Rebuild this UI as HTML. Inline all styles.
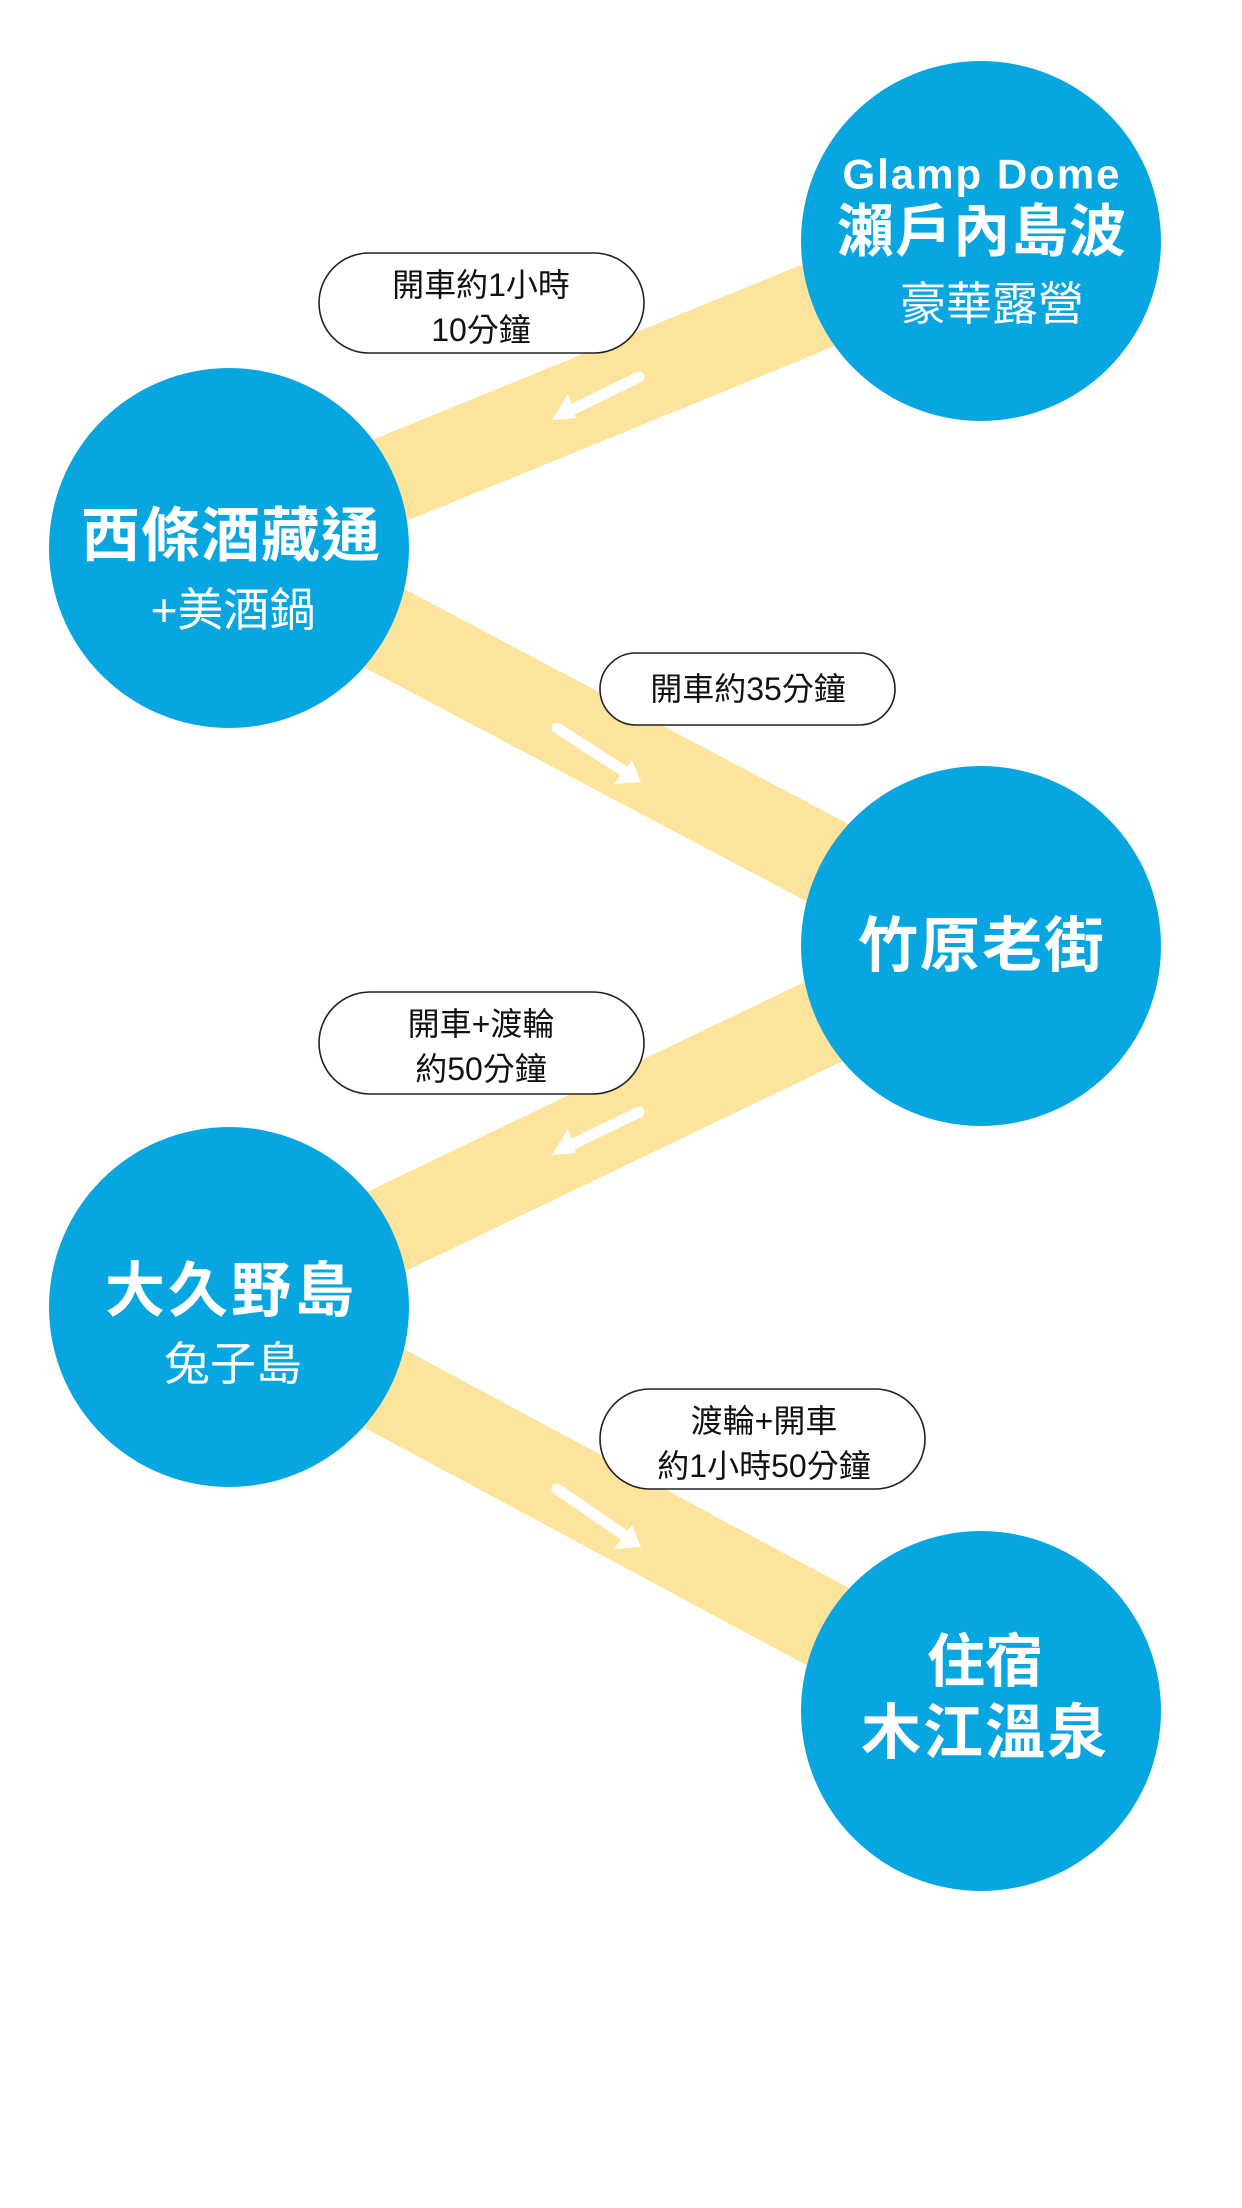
<!DOCTYPE html>
<html><head><meta charset="utf-8"><style>
html,body{margin:0;padding:0;background:#fff;}
svg{display:block;}
.b{font-family:"Liberation Sans","Noto Sans CJK TC",sans-serif;font-weight:bold;fill:#fff;}
.r{font-family:"Liberation Sans","Noto Sans CJK TC",sans-serif;fill:#fff;}
.l{font-family:"Liberation Sans","Noto Sans CJK TC",sans-serif;fill:#111;font-size:32px;}
</style></head><body>
<svg width="1242" height="2208" viewBox="0 0 1242 2208" xmlns="http://www.w3.org/2000/svg">
<g stroke="#FDE49C" stroke-width="88" fill="none">
<line x1="229" y1="546" x2="981" y2="239"/>
<line x1="229" y1="546" x2="981" y2="944"/>
<line x1="229" y1="1307" x2="981" y2="946"/>
<line x1="229" y1="1305" x2="981" y2="1709"/>
</g>
<g stroke="#fff" stroke-width="11" stroke-linecap="round" fill="none">
<line x1="639" y1="377" x2="565" y2="413"/>
<line x1="557" y1="728" x2="627" y2="773"/>
<line x1="639" y1="1112" x2="565" y2="1148"/>
<line x1="557" y1="1489" x2="627" y2="1537"/>
</g>
<g fill="#fff">
<polygon points="552,420 568,394 576,418"/>
<polygon points="641,782 614,784 632,760"/>
<polygon points="552,1155 568,1129 576,1153"/>
<polygon points="641,1547 614,1549 632,1525"/>
</g>
<g fill="#07A6E0">
<circle cx="981" cy="241" r="180"/>
<circle cx="229" cy="548" r="180"/>
<circle cx="981" cy="946" r="180"/>
<circle cx="229" cy="1307" r="180"/>
<circle cx="981" cy="1711" r="180"/>
</g>
<g fill="#fff" stroke="#222" stroke-width="1.6">
<rect x="319" y="253" width="325" height="100" rx="50"/>
<rect x="600" y="653" width="295" height="72" rx="36"/>
<rect x="319" y="992" width="325" height="102" rx="51"/>
<rect x="600" y="1389" width="325" height="100" rx="50"/>
</g>
<g text-anchor="middle" dominant-baseline="central">
<text class="b" x="982" y="174" font-size="42" letter-spacing="2">Glamp Dome</text>
<text class="b" x="982" y="232" font-size="57" letter-spacing="1">瀨戶內島波</text>
<text class="r" x="992" y="304" font-size="46">豪華露營</text>
<text class="b" x="231" y="536" font-size="59" letter-spacing="1">西條酒藏通</text>
<text class="r" x="233" y="610" font-size="46">+美酒鍋</text>
<text class="b" x="982" y="946" font-size="60" letter-spacing="2">竹原老街</text>
<text class="b" x="231" y="1291" font-size="60" letter-spacing="3">大久野島</text>
<text class="r" x="233" y="1364" font-size="46">兔子島</text>
<text class="b" x="985" y="1662" font-size="58">住宿</text>
<text class="b" x="985" y="1733" font-size="60" letter-spacing="2">木江溫泉</text>
<text class="l" x="481" y="285">開車約1小時</text>
<text class="l" x="481" y="330">10分鐘</text>
<text class="l" x="748" y="689">開車約35分鐘</text>
<text class="l" x="481" y="1024">開車+渡輪</text>
<text class="l" x="481" y="1069">約50分鐘</text>
<text class="l" x="764" y="1421">渡輪+開車</text>
<text class="l" x="764" y="1466">約1小時50分鐘</text>
</g>
</svg>
</body></html>
